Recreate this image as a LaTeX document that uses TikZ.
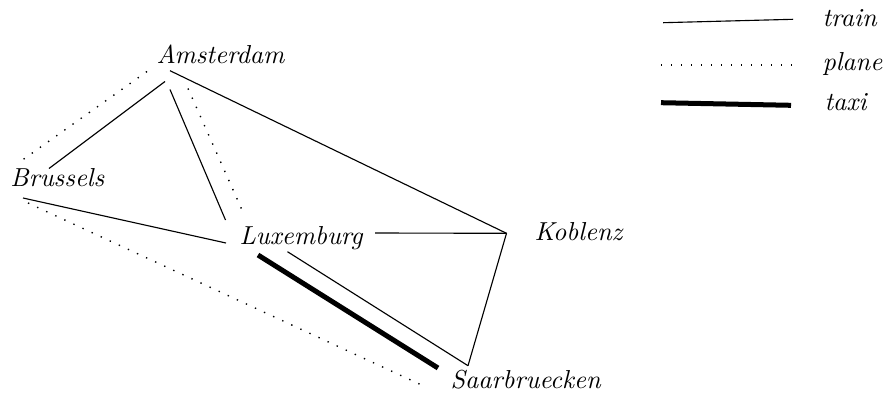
\documentclass[tikz,border=0pt]{standalone}
\begin{document}
\begin{tikzpicture}[x=0.4pt,y=-0.4pt,
  city/.style={font=\fontsize{10.4}{12}\selectfont\itshape, inner sep=0pt, anchor=base west},
  train/.style={line width=0.45pt},
  plane/.style={line width=0.55pt, dash pattern=on 0.55pt off 3.45pt},
  taxi/.style={line width=2pt}]
\useasboundingbox (0,0) rectangle (884,394);
% cities
\node[city] (ams) at (156,63.3) {Amsterdam};
\node[city] (bru) at (10,186.7) {Brussels};
\node[city] (lux) at (239,244.3) {Luxemburg};
\node[city] (kob) at (534,240) {Koblenz};
\node[city] (saa) at (450,388.3) {Saarbruecken};
% connector end points
\coordinate (a1) at (147,71.5);  \coordinate (b1) at (21,161);
\coordinate (a2) at (165,81.5);  \coordinate (b2) at (49,168.5);
\coordinate (a3) at (170,89.5);  \coordinate (l3) at (225.5,220);
\coordinate (a4) at (188,88.5);  \coordinate (l4) at (242,210);
\coordinate (a5) at (170,70.7);  \coordinate (k) at (506.5,233.3);
\coordinate (b6) at (23,198);    \coordinate (l6) at (226,243);
\coordinate (b7) at (28,203);    \coordinate (s7) at (421.5,385);
\coordinate (l8) at (375,233);
\coordinate (l9) at (287.5,251.7); \coordinate (s9) at (468,365.7);
\coordinate (l10) at (258,255);  \coordinate (s10) at (438,368);
% connectors
\draw[plane] (a1) -- (b1);
\draw[train] (a2) -- (b2);
\draw[train] (a3) -- (l3);
\draw[plane] (a4) -- (l4);
\draw[train] (a5) -- (k);
\draw[train] (b6) -- (l6);
\draw[plane] (b7) -- (s7);
\draw[train] (l8) -- (k);
\draw[train] (l9) -- (s9);
\draw[taxi] (l10) -- (s10);
\draw[train] (k) -- (s9);
% legend
\coordinate (t1) at (663,22.7); \coordinate (t2) at (793,19.3);
\coordinate (p1) at (661,65);   \coordinate (p2) at (792,65);
\coordinate (x1) at (661,102.7); \coordinate (x2) at (791,105.3);
\draw[train] (t1) -- (t2);
\draw[plane] (p1) -- (p2);
\draw[taxi] (x1) -- (x2);
\node[city] (ltrain) at (822,26.7) {train};
\node[city] (lplane) at (822,70) {plane};
\node[city] (ltaxi) at (824,110) {taxi};
\end{tikzpicture}
\end{document}
